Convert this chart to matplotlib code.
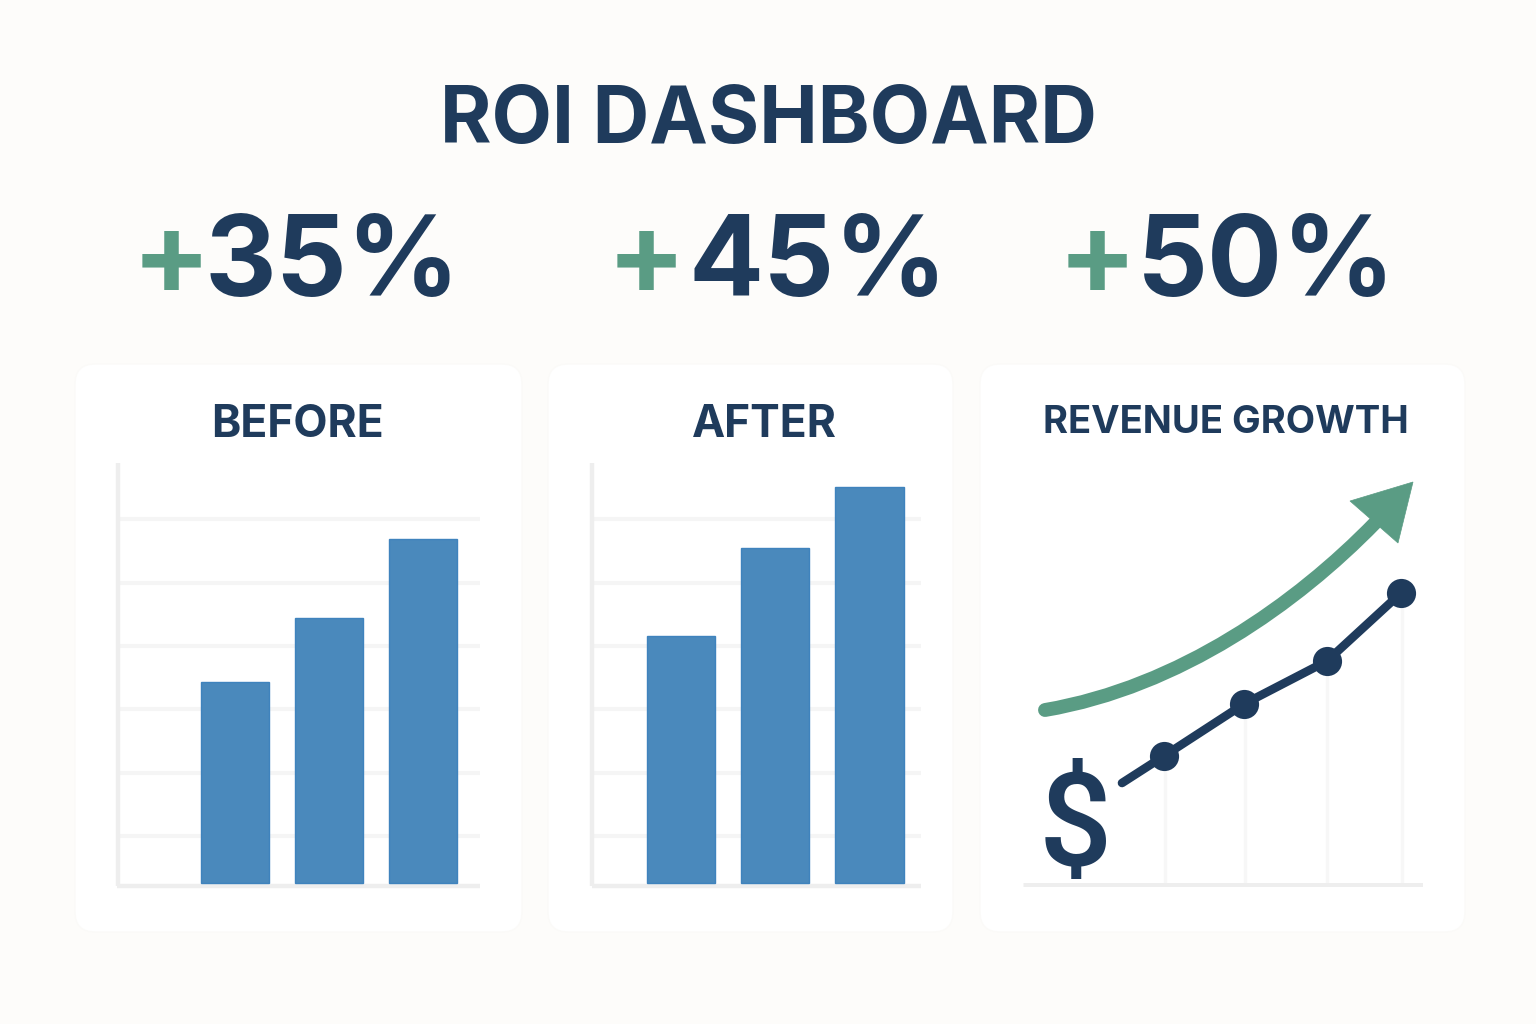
import matplotlib
matplotlib.use("Agg")
import matplotlib.pyplot as plt
from matplotlib.patches import FancyBboxPatch, PathPatch, Polygon
from matplotlib.path import Path

W, H = 1536, 1024
NAVY = "#1F3B5C"
GREEN = "#5A9C84"
BLUE = "#4A89BC"
plt.rcParams["font.family"] = ["Inter", "DejaVu Sans"]

kpi_values = ["35%", "45%", "50%"]
before_values = [3.17, 4.18, 5.42]
after_values = [3.89, 5.28, 6.25]
grid_levels = [0.74, 1.74, 2.74, 3.74, 4.74, 5.74]
growth_x = [99, 141, 221, 304, 378]
growth_y = [104, 131, 183, 226, 294]
drop_x = [142, 222, 304, 379]


def px_axes(fig, left, top, right, bottom):
    """Axes placed by pixel box, y counted from the top of the image."""
    ax = fig.add_axes([left / W, 1 - bottom / H, (right - left) / W, (bottom - top) / H])
    ax.patch.set_visible(False)
    return ax


def label(fig, x, y, s, size, color=NAVY, ha="center", family="Inter", weight="bold"):
    return fig.text(x / W, 1 - y / H, s, fontsize=size, color=color, ha=ha, va="baseline",
                    family=[family, "DejaVu Sans"], weight=weight)


def bar_panel(fig, left, right, xlim, values, width):
    ax = px_axes(fig, left, 463, right, 886)
    ax.bar(range(len(values)), values, width=width, color=BLUE, edgecolor="#3F83BD", linewidth=1, zorder=3)
    for level in grid_levels:
        ax.axhline(level, color="#F5F5F5", lw=2.9, zorder=1)
    ax.set_xlim(*xlim)
    ax.set_ylim(-0.047, 6.625)
    ax.set_xticks([])
    ax.set_yticks([])
    ax.spines[["top", "right"]].set_visible(False)
    ax.spines[["left", "bottom"]].set_color("#EEEEEE")
    ax.spines[["left", "bottom"]].set_linewidth(3.2)
    ax.spines[["left", "bottom"]].set_capstyle("butt")
    return ax


fig = plt.figure(figsize=(W / 100, H / 100), dpi=100, facecolor="#FDFCFA")

# white cards behind the panels
bg = fig.add_axes([0, 0, 1, 1])
bg.set_xlim(0, W)
bg.set_ylim(H, 0)
bg.axis("off")
for x0, x1 in [(75, 522), (548, 953), (980, 1465)]:
    bg.add_patch(FancyBboxPatch((x0 + 20, 384), x1 - x0 - 40, 528,
                                boxstyle="round,pad=20,rounding_size=20",
                                facecolor="white", edgecolor="#FBFAF8", lw=1))

label(fig, 768, 143, "ROI DASHBOARD", 56.5)

for plus_x, num_x, val in zip([171, 646, 1097], [205, 688, 1137], kpi_values):
    label(fig, plus_x, 295, "+", 84, color=GREEN)
    label(fig, num_x, 296, val, 80, ha="left")

label(fig, 297, 437, "BEFORE", 32)
label(fig, 764, 437, "AFTER", 32)
label(fig, 1226, 433, "REVENUE GROWTH", 27.5)

bar_panel(fig, 117.5, 480, (-1.258, 2.61), before_values, 0.725)
bar_panel(fig, 592, 921, (-0.937, 2.545), after_values, 0.72)

# revenue growth panel
ax = px_axes(fig, 1023, 463, 1423, 887)
ax.set_xlim(0, 400)
ax.set_ylim(0, 424)
ax.axis("off")
ax.vlines(drop_x, 0, [132, 184, 227, 295], color="#F7F7F7", lw=2.4, zorder=1)
ax.plot([0, 400], [2, 2], color="#EEEEEE", lw=3.6, solid_capstyle="butt", zorder=1)
ax.plot(growth_x, growth_y, color=NAVY, lw=6.2, solid_capstyle="round", zorder=3)
ax.plot(growth_x[1:], growth_y[1:], "o", color=NAVY, ms=21, mew=0, zorder=4)

curve = Path([(22, 177), (157, 200), (274, 284), (352, 364)],
             [Path.MOVETO, Path.CURVE4, Path.CURVE4, Path.CURVE4])
ax.add_patch(PathPatch(curve, facecolor="none", edgecolor=GREEN, lw=10, capstyle="round", zorder=2))
ax.add_patch(Polygon([(327, 386), (390, 405), (375, 344)], closed=True, facecolor=GREEN, edgecolor=GREEN, lw=0.5, zorder=2))

label(fig, 1075, 866, "$", 93, family="Roboto", weight="medium")

fig.savefig("out.png", dpi=100, facecolor=fig.get_facecolor())
